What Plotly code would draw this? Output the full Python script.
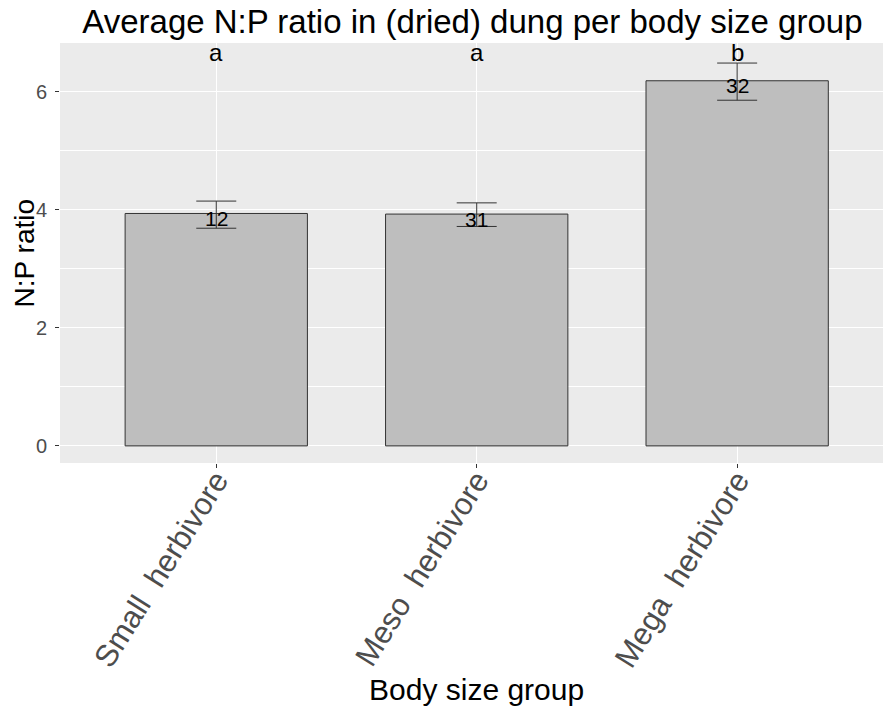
import plotly.graph_objects as go

categories = ["Small  herbivore", "Meso  herbivore", "Mega  herbivore"]
means = [3.94, 3.93, 6.19]
err_upper = [4.15, 4.12, 6.49]
err_lower = [3.69, 3.72, 5.86]
counts = ["12", "31", "32"]
letters = ["a", "a", "b"]

FONT = "Liberation Sans, Arial, sans-serif"

fig = go.Figure()
fig.add_trace(go.Bar(
    x=categories, y=means, width=0.7,
    marker=dict(color="#bebebe", line=dict(color="#333333", width=1)),
    error_y=dict(type="data", symmetric=False,
                 array=[u - m for u, m in zip(err_upper, means)],
                 arrayminus=[m - l for m, l in zip(means, err_lower)],
                 color="#333333", thickness=1, width=20),
    showlegend=False, hoverinfo="skip",
))

for c, m, n in zip(categories, means, counts):
    fig.add_annotation(x=c, y=m, text=n, showarrow=False, yanchor="middle", yshift=-5,
                       font=dict(family=FONT, size=21, color="black"))

letter_y = 6.67
for c, l in zip(categories, letters):
    fig.add_annotation(x=c, y=letter_y, text=l, showarrow=False, yanchor="middle",
                       borderpad=0, font=dict(family=FONT, size=24, color="black"))

fig.add_annotation(text="Body size group", xref="paper", yref="paper", x=0.506, y=-0.54,
                   xanchor="center", yanchor="middle", showarrow=False,
                   font=dict(family=FONT, size=30, color="black"))
fig.add_annotation(text="N:P ratio", xref="paper", yref="paper", x=-0.022, y=0.5,
                   xanchor="right", yanchor="middle", textangle=-90, showarrow=False,
                   font=dict(family=FONT, size=28, color="black"))

fig.update_layout(
    width=883, height=709,
    margin=dict(l=60, r=0, t=43, b=246),
    paper_bgcolor="white", plot_bgcolor="#ebebeb",
    title=dict(text="Average N:P ratio in (dried) dung per body size group",
               x=0.535, xanchor="center", y=0.97, yanchor="middle",
               font=dict(family=FONT, size=33, color="black")),
    bargap=0.3,
    xaxis=dict(range=[-0.6, 2.56], showgrid=True, gridcolor="white", gridwidth=1.2,
               tickangle=-58, ticks="outside", ticklen=4, tickcolor="#333333",
               ticklabelstandoff=-18,
               tickfont=dict(family=FONT, size=31, color="#4d4d4d"),
               zeroline=False, showline=False),
    yaxis=dict(range=[-0.29, 6.83], tickvals=[0, 2, 4, 6], showgrid=True,
               gridcolor="white", gridwidth=1.2, ticks="outside", ticklen=4,
               ticklabelstandoff=4,
               tickcolor="#333333", tickfont=dict(family=FONT, size=20, color="#4d4d4d"),
               minor=dict(tickvals=[1, 3, 5], showgrid=True, gridcolor="white", gridwidth=0.6, ticks=""),
               zeroline=False, showline=False),
    font=dict(family=FONT),
)

fig.write_html("out.html", config={"displayModeBar": False},
               post_script="document.body.style.margin='0';document.body.style.overflow='hidden';")
